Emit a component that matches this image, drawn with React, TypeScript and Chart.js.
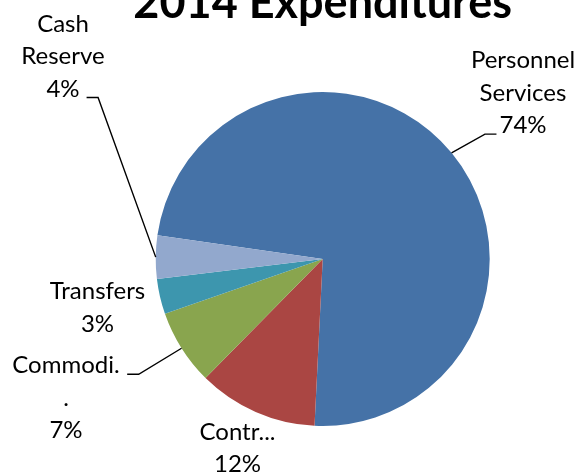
import React, { useEffect, useRef } from "react";
import { Chart, registerables } from "chart.js";

Chart.register(...registerables);

// ---- data ----
const title = "2014 Expenditures";
const categories = [
  "Personnel Services",
  "Contractual Services",
  "Commodities",
  "Transfers",
  "Cash Reserve",
];
const labelLines = [["Personnel", "Services"], ["Contr..."], ["Commodi.", "."], ["Transfers"], ["Cash", "Reserve"]];
const values = [73.5, 11.6, 7.3, 3.4, 4.2];
const colors = ["#4572A7", "#AA4643", "#89A54E", "#3D96AE", "#92A8CD"];

// ---- label layout (relative to pie centre) ----
const labelLayout = [
  { dx: 200.3, dy: -190.7, leader: { line: 2, side: "left", gap: 3 } },
  { dx: -85.2, dy: 181, leader: null },
  { dx: -256.7, dy: 114.3, leader: { line: 0, side: "right", gap: 7.5 } },
  { dx: -225.2, dy: 40.3, leader: null },
  { dx: -259.7, dy: -227.3, leader: { line: 2, side: "right", gap: 7 } },
];
const FONT = "Lato, 'Open Sans', sans-serif";
const LABEL_SIZE = 24;
const LINE_H = 32.4;

const labelPlugin = {
  id: "pieLabels",
  afterDraw(chart: any) {
    const ctx = chart.ctx;
    const meta = chart.getDatasetMeta(0);
    const total = values.reduce((a, b) => a + b, 0);
    ctx.save();
    let cxPie = 0;
    meta.data.forEach((arc: any, i: number) => {
      const { x, y, startAngle, endAngle, outerRadius } = arc.getProps(
        ["x", "y", "startAngle", "endAngle", "outerRadius"],
        true
      );
      cxPie = x;
      const mid = (startAngle + endAngle) / 2;
      const ex = x + Math.cos(mid) * outerRadius;
      const ey = y + Math.sin(mid) * outerRadius;
      const lines = [...labelLines[i], Math.round((values[i] / total) * 100) + "%"];
      const L = labelLayout[i];
      const cx = x + L.dx;
      ctx.font = `${LABEL_SIZE}px ${FONT}`;
      ctx.fillStyle = "#000";
      ctx.textAlign = "center";
      ctx.textBaseline = "alphabetic";
      lines.forEach((t, k) => ctx.fillText(t, cx, y + L.dy + k * LINE_H));
      if (L.leader) {
        const ld = L.leader;
        const w = ctx.measureText(lines[ld.line]).width;
        const by = y + L.dy + ld.line * LINE_H + 1;
        const dir = ld.side === "right" ? 1 : -1;
        const hx0 = cx + dir * (w / 2 + ld.gap);
        const hx1 = hx0 + dir * 11.5;
        ctx.beginPath();
        ctx.moveTo(hx0, by);
        ctx.lineTo(hx1, by);
        ctx.lineTo(ex, ey);
        ctx.strokeStyle = "#000";
        ctx.lineWidth = 1.4;
        ctx.stroke();
      }
    });
    ctx.font = `bold 45px ${FONT}`;
    ctx.fillStyle = "#000";
    ctx.textAlign = "center";
    ctx.fillText(title, cxPie, 18);
    ctx.restore();
  },
};

export default function App() {
  const ref = useRef<HTMLCanvasElement | null>(null);
  useEffect(() => {
    if (!ref.current) return;
    const chart = new Chart(ref.current, {
      type: "pie",
      data: {
        labels: categories,
        datasets: [
          {
            data: values,
            backgroundColor: colors,
            borderWidth: 0,
          },
        ],
      },
      options: {
        animation: false,
        responsive: true,
        maintainAspectRatio: false,
        rotation: 278.2,
        radius: 167,
        layout: { padding: { left: 155.7, right: 96.3, top: 92, bottom: 48 } },
        plugins: {
          legend: { display: false },
          title: { display: false },
          tooltip: { enabled: false },
        },
      } as any,
      plugins: [labelPlugin],
    });
    return () => chart.destroy();
  }, []);
  return (
    <div style={{ position: "absolute", left: 0, top: 0, width: 586, height: 474, background: "#fff" }}>
      <canvas ref={ref} />
    </div>
  );
}
